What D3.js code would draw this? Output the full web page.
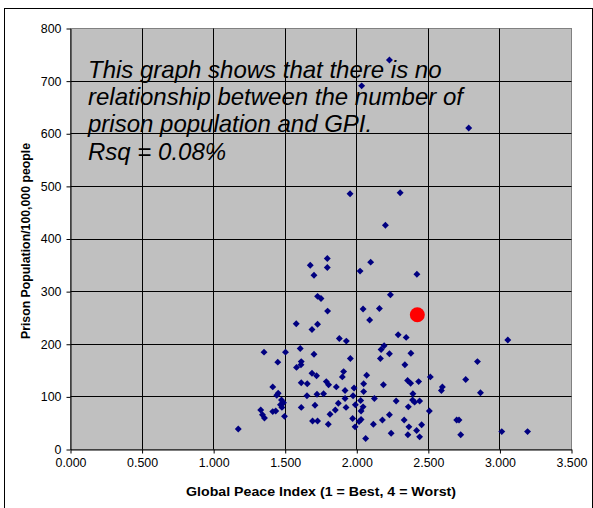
<!DOCTYPE html>
<html>
<head>
<meta charset="utf-8">
<script src="https://cdn.jsdelivr.net/npm/d3@7"></script>
<style>
  html, body { margin: 0; padding: 0; background: #fff; }
  svg { display: block; }
  text { font-family: "Liberation Sans", Arial, sans-serif; }
</style>
</head>
<body>
<svg id="chart" width="593" height="508"></svg>
<script>
// ---- data ----
const gpi = [2.228, 2.034, 2.782, 2.303, 2.200, 2.097, 2.420, 2.235, 1.953, 1.794,
  1.675, 1.794, 1.701, 2.023, 1.726, 1.750, 1.796, 1.577, 1.726, 1.687,
  1.878, 1.927, 1.352, 1.502, 1.605, 1.701, 1.955, 1.448, 1.612, 1.579,
  1.610, 1.687, 1.719, 1.908, 1.899, 1.612, 1.654, 1.787, 1.803, 1.857,
  1.413, 1.451, 1.441, 1.652, 1.722, 1.768, 1.918, 1.981, 1.974, 1.918,
  1.871, 1.925, 1.990, 1.474, 1.488, 1.467, 1.477, 1.612, 1.708, 1.850,
  1.813, 1.329, 1.341, 1.355, 1.413, 1.434, 1.495, 1.691, 1.726, 1.801,
  1.971, 1.988, 2.016, 1.172, 2.044, 2.158, 2.090, 2.289, 2.345, 3.055,
  2.191, 2.170, 2.228, 2.378, 2.165, 2.336, 2.843, 2.069, 2.048, 2.186,
  2.355, 2.376, 2.432, 2.514, 2.761, 2.598, 2.591, 2.864, 2.048, 2.392,
  2.027, 2.123, 2.275, 2.390, 2.404, 2.439, 2.044, 2.030, 2.360, 2.507,
  2.228, 2.179, 2.116, 2.030, 2.331, 2.364, 2.357, 2.418, 2.453, 2.439,
  2.240, 2.062, 2.698, 2.714, 2.726, 3.013, 3.193];
const prison = [740, 691, 611, 488, 426, 356, 333, 294, 486, 363,
  350, 346, 331, 339, 291, 287, 263, 239, 238, 228,
  211, 206, 185, 185, 192, 181, 173, 166, 167, 156,
  161, 145, 140, 148, 138, 127, 125, 129, 123, 119,
  119, 107, 103, 102, 105, 106, 112, 117, 102, 97,
  88, 80, 85, 94, 89, 85, 80, 80, 84, 75,
  67, 75, 66, 60, 72, 73, 63, 54, 54, 48,
  59, 43, 53, 39, 267, 268, 246, 218, 213, 208,
  197, 190, 182, 183, 173, 161, 167, 141, 125, 123,
  131, 126, 129, 138, 133, 119, 112, 108, 110, 106,
  93, 97, 92, 94, 90, 92, 81, 73, 81, 73,
  66, 56, 48, 57, 56, 43, 28, 36, 47, 24,
  31, 21, 56, 56, 28, 34, 34];
const highlightGpi = [2.423];
const highlightPrison = [256];
const xTicks = [0, 0.5, 1.0, 1.5, 2.0, 2.5, 3.0, 3.5];
const yTicks = [0, 100, 200, 300, 400, 500, 600, 700, 800];
const noteLines = ["This graph shows that there is no",
  "relationship between the number of",
  "prison population and GPI.",
  "Rsq = 0.08%"];
const xTitle = "Global Peace Index (1 = Best, 4 = Worst)";
const yTitle = "Prison Population/100,000 people";

// ---- layout ----
const svg = d3.select("#chart");
const L = 70.5, R = 571.5, T = 28.5, B = 449.5;
const x = d3.scaleLinear().domain([0, 3.5]).range([L, R]);
const y = d3.scaleLinear().domain([0, 800]).range([B, T]);

// outer border
svg.append("rect").attr("x", 4.5).attr("y", 8.5).attr("width", 588).attr("height", 500)
  .attr("fill", "#fff").attr("stroke", "#000").attr("stroke-width", 1);

// plot background
svg.append("rect").attr("x", L).attr("y", T).attr("width", R - L).attr("height", B - T)
  .attr("fill", "#c0c0c0").attr("stroke", "#808080").attr("stroke-width", 1);

// gridlines
const snap = v => Math.round(v) + 0.5;
svg.append("g").selectAll("line.h").data(yTicks.filter(d => d > 0 && d < 800)).join("line")
  .attr("x1", L).attr("x2", R).attr("y1", d => snap(y(d) - 0.5)).attr("y2", d => snap(y(d) - 0.5))
  .attr("stroke", "#000").attr("stroke-width", 1);
svg.append("g").selectAll("line.v").data(xTicks.filter(d => d > 0 && d < 3.5)).join("line")
  .attr("y1", T).attr("y2", B).attr("x1", d => snap(x(d) - 0.5)).attr("x2", d => snap(x(d) - 0.5))
  .attr("stroke", "#000").attr("stroke-width", 1);

// axes
const xAxis = d3.axisBottom(x).tickValues(xTicks).tickFormat(d3.format(".3f"))
  .tickSizeInner(4).tickSizeOuter(0).tickPadding(5);
const gx = svg.append("g").attr("transform", `translate(0,${B})`).call(xAxis);
gx.select(".domain").attr("stroke", "#000");
gx.selectAll(".tick line").attr("stroke", "#000");
gx.selectAll("text").attr("font-size", "12.4px").attr("fill", "#000")
  .attr("font-family", "Liberation Sans, Arial, sans-serif");

const yAxis = d3.axisLeft(y).tickValues(yTicks).tickFormat(d3.format("d"))
  .tickSizeInner(4).tickSizeOuter(0).tickPadding(5);
const gy = svg.append("g").attr("transform", `translate(${L},0)`).call(yAxis);
gy.select(".domain").attr("stroke", "#000");
gy.selectAll(".tick line").attr("stroke", "#000");
gy.selectAll("text").attr("font-size", "12.4px").attr("fill", "#000")
  .attr("font-family", "Liberation Sans, Arial, sans-serif");

// axis titles
svg.append("text").attr("x", (L + R) / 2).attr("y", 496).attr("text-anchor", "middle")
  .attr("font-size", "12.5px").attr("font-weight", "bold")
  .attr("textLength", 270).attr("lengthAdjust", "spacingAndGlyphs").text(xTitle);
svg.append("text").attr("transform", `translate(30,${(T + B) / 2 + 2}) rotate(-90)`)
  .attr("text-anchor", "middle").attr("font-size", "12.3px").attr("font-weight", "bold")
  .text(yTitle);

// points
const sym = d3.symbol().type(d3.symbolSquare).size(24);
svg.append("g").selectAll("path").data(d3.range(gpi.length)).join("path")
  .attr("d", sym)
  .attr("transform", i => `translate(${x(gpi[i])},${y(prison[i])}) rotate(45)`)
  .attr("fill", "#000080");

svg.append("g").selectAll("circle").data(d3.range(highlightGpi.length)).join("circle")
  .attr("cx", i => x(highlightGpi[i])).attr("cy", i => y(highlightPrison[i]))
  .attr("r", 7.5).attr("fill", "#ff0000");

// annotation
svg.append("g").selectAll("text").data(noteLines).join("text")
  .attr("x", 88).attr("y", (d, i) => 77.5 + i * 27.4)
  .attr("font-size", "24px").attr("font-style", "italic").attr("fill", "#000")
  .text(d => d);
</script>
</body>
</html>
